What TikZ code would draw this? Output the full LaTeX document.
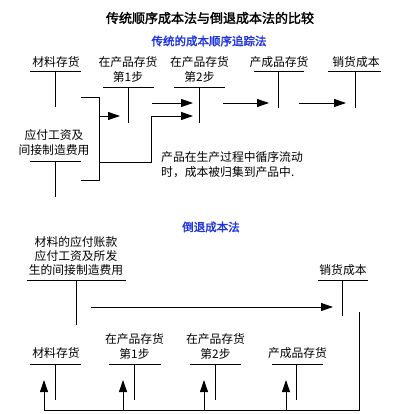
\documentclass[tikz,border=0pt]{standalone}
\usepackage{fontspec}
\setmainfont{Noto Sans CJK SC}[AutoFakeBold=2]
\usetikzlibrary{arrows.meta}
\definecolor{subblue}{RGB}{30,50,225}
\begin{document}
\begin{tikzpicture}[x=1pt,y=-1pt,
  lbl/.style={font=\fontsize{11.8}{15}\selectfont, align=center, inner sep=0pt},
  acct/.style={line width=0.9pt},
  conn/.style={line width=0.9pt},
  arr/.style={line width=0.9pt,-{Triangle[length=12pt,width=8pt]}},
  subt/.style={font=\bfseries\fontsize{11.5}{14}\selectfont, text=subblue, inner sep=0pt}]
\useasboundingbox[fill=white] (0,0) rectangle (406,414);

% titles
\node[font=\bfseries\fontsize{13}{15}\selectfont, inner sep=0pt] (title) at (210,18) {传统顺序成本法与倒退成本法的比较};
\node[subt] (sub1) at (209,41) {传统的成本顺序追踪法};
\node[subt] (sub2) at (211,227) {倒退成本法};

% ---------- top: labels ----------
\node[lbl] (mat1) at (56,62) {材料存货};
\node[lbl] (wip1) at (128,69.5) {在产品存货\\第1步};
\node[lbl] (wip2) at (199.5,69.5) {在产品存货\\第2步};
\node[lbl] (fg1) at (279,62) {产成品存货};
\node[lbl] (cogs1) at (356,62) {销货成本};
\node[lbl] (labor) at (54,142.5) {应付工资及\\间接制造费用};
\node[lbl, align=left, anchor=west] (note) at (161,164.5) {产品在生产过程中循序流动\\时，成本被归集到产品中.};

% top T-accounts
\coordinate (m1l) at (30,71);  \coordinate (m1r) at (81,71);
\coordinate (m1t) at (55,71);  \coordinate (m1b) at (55,107);
\coordinate (w1l) at (103,87); \coordinate (w1r) at (154,87);
\coordinate (w1t) at (128,87); \coordinate (w1b) at (128,123);
\coordinate (w2l) at (174,87); \coordinate (w2r) at (225,87);
\coordinate (w2t) at (199,87); \coordinate (w2b) at (199,123);
\coordinate (f1l) at (254,71); \coordinate (f1r) at (304,71);
\coordinate (f1t) at (278,71); \coordinate (f1b) at (278,108);
\coordinate (c1l) at (328,71); \coordinate (c1r) at (381,71);
\coordinate (c1t) at (355,71); \coordinate (c1b) at (355,108);
\coordinate (lal) at (30,161); \coordinate (lar) at (81,161);
\coordinate (lat) at (55,161); \coordinate (lab) at (55,197);
\foreach \a in {m1,w1,w2,f1,c1,la}{
  \draw[acct] (\a l) -- (\a r);
  \draw[acct] (\a t) -- (\a b);
}

% top flows
\coordinate (bk1) at (81,97);  \coordinate (bk2) at (99,97);
\coordinate (bk3) at (99,180); \coordinate (bk4) at (81,180);
\draw[conn] (bk1) -- (bk2) -- (bk3) -- (bk4);
\coordinate (a1s) at (99,116); \coordinate (a1e) at (120,116);
\draw[arr] (a1s) -- (a1e);
\coordinate (a2s) at (99,162); \coordinate (a2m) at (151,162);
\coordinate (a2n) at (151,116); \coordinate (a2e) at (193,116);
\draw[arr] (a2s) -- (a2m) -- (a2n) -- (a2e);
\coordinate (a3s) at (152,103); \coordinate (a3e) at (193,103);
\coordinate (a4s) at (223,103); \coordinate (a4e) at (269,103);
\coordinate (a5s) at (299,103); \coordinate (a5e) at (346,103);
\draw[arr] (a3s) -- (a3e);
\draw[arr] (a4s) -- (a4e);
\draw[arr] (a5s) -- (a5e);

% ---------- bottom: labels ----------
\node[lbl, font=\fontsize{11.8}{14}\selectfont] (src) at (76,256) {材料的应付账款\\应付工资及所发\\生的间接制造费用};
\node[lbl] (cogs2) at (343,270) {销货成本};
\node[lbl] (mat2) at (56,353) {材料存货};
\node[lbl] (wip3) at (134.5,346) {在产品存货\\第1步};
\node[lbl] (wip4) at (215.5,346) {在产品存货\\第2步};
\node[lbl] (fg2) at (297.5,353) {产成品存货};

% bottom T-accounts
\coordinate (srl) at (27,280);  \coordinate (srr) at (126,280);
\coordinate (srt) at (76,280);  \coordinate (srb) at (76,325);
\coordinate (c2l) at (318,280); \coordinate (c2r) at (368,280);
\coordinate (c2t) at (342,280); \coordinate (c2b) at (342,316);
\coordinate (m2l) at (30,364);  \coordinate (m2r) at (81,364);
\coordinate (m2t) at (55,364);  \coordinate (m2b) at (55,400);
\coordinate (w3l) at (109,364); \coordinate (w3r) at (161,364);
\coordinate (w3t) at (134,364); \coordinate (w3b) at (134,400);
\coordinate (w4l) at (190,364); \coordinate (w4r) at (241,364);
\coordinate (w4t) at (215,364); \coordinate (w4b) at (215,400);
\coordinate (f2l) at (272,364); \coordinate (f2r) at (323,364);
\coordinate (f2t) at (296,364); \coordinate (f2b) at (296,400);
\foreach \a in {sr,c2,m2,w3,w4,f2}{
  \draw[acct] (\a l) -- (\a r);
  \draw[acct] (\a t) -- (\a b);
}

% bottom flows
\coordinate (b1s) at (91,307); \coordinate (b1e) at (333,307);
\draw[arr] (b1s) -- (b1e);
\coordinate (rt) at (359,312); \coordinate (rb) at (359,410);
\coordinate (lb) at (44,410);
\draw[conn] (rt) -- (rb) -- (lb);
\foreach \x/\n in {44/u1,123/u2,204/u3,286/u4}{
  \coordinate (\n s) at (\x,410);
  \coordinate (\n e) at (\x,380);
  \draw[arr] (\n s) -- (\n e);
}
\end{tikzpicture}
\end{document}
